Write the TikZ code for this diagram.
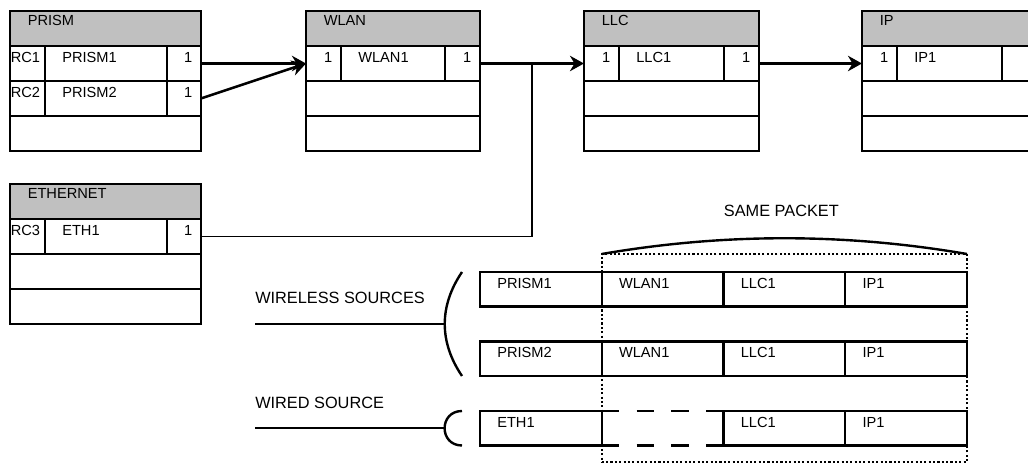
\documentclass[tikz,border=0pt]{standalone}
\usepackage{fontspec}
\setmainfont{Liberation Sans}
\usetikzlibrary{arrows.meta,positioning,calc,fit}
\newcommand{\pxu}{0.025cm}
\newcommand{\tabfont}{\fontsize{10.4}{12.5}\selectfont}
\newcommand{\labfont}{\fontsize{11.6}{14}\selectfont}
\definecolor{hdrgray}{RGB}{192,192,192}

\begin{document}
\begin{tikzpicture}[x=\pxu, y=-\pxu,
		tab/.style={draw, line width=1.7pt, inner sep=0, outer sep=0,
			minimum width=#1*\pxu, minimum height=35*\pxu},
		head/.style={tab=#1, fill=hdrgray, anchor=north west},
		lbl/.style={anchor=north west, inner sep=0, font=\tabfont},
		hd/.style={label={[lbl, xshift=17.5*\pxu, yshift=-4*\pxu]north west:#1}},
		nm/.style={label={[lbl, xshift=17*\pxu, yshift=-6*\pxu]north west:#1}},
		rc/.style={label={[lbl, xshift=0.5*\pxu, yshift=-6*\pxu]north west:#1}},
		num/.style={label={[lbl, anchor=north east, xshift=-8.5*\pxu, yshift=-6*\pxu]north east:#1}},
		pcell/.style={tab=121.75, minimum height=34.5*\pxu},
		arr/.style={-{Stealth[length=10pt, width=11pt]}, line width=1.8pt},
		link/.style={line width=1.2pt},
		brk/.style={line width=1.7pt},
		lab/.style={inner sep=0, font=\labfont}
		]
		\useasboundingbox (0,0) rectangle (1028,464);
		\clip (0,0) rectangle (1028,464);
		
		% PRISM table
		\node[head=191, hd=PRISM] (prism) at (10,11) {};
		\node[tab=35, rc=RC1, anchor=north west] (prism-rc1) at (prism.south west) {};
		\node[tab=122, nm=PRISM1, right=0 of prism-rc1] (prism-n1) {};
		\node[tab=34, num=1, right=0 of prism-n1] (prism-p1) {};
		\node[tab=35, rc=RC2, below=0 of prism-rc1] (prism-rc2) {};
		\node[tab=122, nm=PRISM2, right=0 of prism-rc2] (prism-n2) {};
		\node[tab=34, num=1, right=0 of prism-n2] (prism-p2) {};
		\node[tab=191, anchor=north west] (prism-r3) at (prism-rc2.south west) {};
		
		% WLAN table
		\node[head=174, hd=WLAN] (wlan) at (306,11) {};
		\node[tab=35, num=1, anchor=north west] (wlan-l1) at (wlan.south west) {};
		\node[tab=104, nm=WLAN1, right=0 of wlan-l1] (wlan-n1) {};
		\node[tab=35, num=1, right=0 of wlan-n1] (wlan-r1) {};
		\node[tab=174, anchor=north west] (wlan-r2) at (wlan-l1.south west) {};
		\node[tab=174, anchor=north west] (wlan-r3) at (wlan-r2.south west) {};
		
		% LLC table
		\node[head=175, hd=LLC] (llc) at (584,11) {};
		\node[tab=35, num=1, anchor=north west] (llc-l1) at (llc.south west) {};
		\node[tab=105, nm=LLC1, right=0 of llc-l1] (llc-n1) {};
		\node[tab=35, num=1, right=0 of llc-n1] (llc-r1) {};
		\node[tab=175, anchor=north west] (llc-r2) at (llc-l1.south west) {};
		\node[tab=175, anchor=north west] (llc-r3) at (llc-r2.south west) {};
		
		% IP table (runs off the right edge)
		\node[head=175, hd=IP] (ip) at (862,11) {};
		\node[tab=35, num=1, anchor=north west] (ip-l1) at (ip.south west) {};
		\node[tab=105, nm=IP1, right=0 of ip-l1] (ip-n1) {};
		\node[tab=35, right=0 of ip-n1] (ip-r1) {};
		\node[tab=175, anchor=north west] (ip-r2) at (ip-l1.south west) {};
		\node[tab=175, anchor=north west] (ip-r3) at (ip-r2.south west) {};
		
		% ETHERNET table
		\node[head=191, hd=ETHERNET] (eth) at (10,184) {};
		\node[tab=35, rc=RC3, anchor=north west] (eth-rc3) at (eth.south west) {};
		\node[tab=122, nm=ETH1, right=0 of eth-rc3] (eth-n1) {};
		\node[tab=34, num=1, right=0 of eth-n1] (eth-p1) {};
		\node[tab=191, anchor=north west] (eth-r2) at (eth-rc3.south west) {};
		\node[tab=191, anchor=north west] (eth-r3) at (eth-r2.south west) {};
		
		% Arrows between tables
		\draw[arr] (prism-p1.east) -- (wlan-l1.west);
		\draw[arr] (prism-p2.east) -- (wlan-l1.west);
		\draw[arr] (wlan-r1.east) -- (llc-l1.west);
		\draw[arr] (llc-r1.east) -- (ip-l1.west);
		\coordinate (merge) at ($(wlan-r1.east)!0.5!(llc-l1.west)$);
		\draw[link] (eth-p1.east) -| (merge);
		
		% Packets
		\node[pcell, nm=PRISM1, anchor=north west] (pa-src) at (480,272) {};
		\node[pcell, nm=WLAN1, right=0 of pa-src] (pa-wlan) {};
		\node[pcell, nm=LLC1, right=0 of pa-wlan] (pa-llc) {};
		\node[pcell, nm=IP1, right=0 of pa-llc] (pa-ip) {};
		
		\node[pcell, nm=PRISM2, anchor=north west] (pb-src) at (480,341.5) {};
		\node[pcell, nm=WLAN1, right=0 of pb-src] (pb-wlan) {};
		\node[pcell, nm=LLC1, right=0 of pb-wlan] (pb-llc) {};
		\node[pcell, nm=IP1, right=0 of pb-llc] (pb-ip) {};
		
		\node[pcell, nm=ETH1, anchor=north west] (pc-src) at (480,411) {};
		\node[pcell, draw=none, right=0 of pc-src] (pc-gap) {};
		\node[pcell, nm=LLC1, right=0 of pc-gap] (pc-llc) {};
		\node[pcell, nm=IP1, right=0 of pc-llc] (pc-ip) {};
		\draw[brk, dash pattern=on 12.37pt off 12.37pt] (pc-gap.north west) -- (pc-gap.north east);
		\draw[brk, dash pattern=on 12.37pt off 12.37pt] (pc-gap.south west) -- (pc-gap.south east);
		
		% Same packet box
		\node[draw, line width=1.5pt, dash pattern=on 1.5pt off 1.6pt, inner sep=0, outer sep=0,
			fit={($(pa-wlan.north west)+(0,-18)$) ($(pc-ip.south east)+(0,16.5)$)}] (same) {};
		\draw[brk] (same.north west) .. controls +(122,-21) and +(-122,-21) .. (same.north east);
		\node[lab] (same-lab) at ($(same.north)+(-3,-43)$) {SAME PACKET};
		
		% Sources
		\node[lab, anchor=north west] (wl-lab) at (255,292) {WIRELESS SOURCES};
		\coordinate (wl-top) at ($(pa-src.north west)+(-18,0)$);
		\coordinate (wl-bot) at ($(pb-src.south west)+(-18,0)$);
		\coordinate (wl-mid) at ($(wl-top)!0.5!(wl-bot)+(-17.25,0)$);
		\draw[brk] (wl-top) .. controls +(-23,34) and +(-23,-34) .. (wl-bot);
		\draw[brk] (wl-mid -| wl-lab.west) -- (wl-mid);
		
		\node[lab, anchor=north west] (wd-lab) at (255,397) {WIRED SOURCE};
		\coordinate (wd-top) at ($(pc-src.north west)+(-18,0)$);
		\coordinate (wd-bot) at ($(pc-src.south west)+(-18,0)$);
		\coordinate (wd-mid) at ($(wd-top)!0.5!(wd-bot)+(-17.4,0)$);
		\draw[brk] (wd-top) .. controls +(-23.2,0) and +(-23.2,0) .. (wd-bot);
		\draw[brk] (wd-mid -| wd-lab.west) -- (wd-mid);
	\end{tikzpicture}
\end{document}
